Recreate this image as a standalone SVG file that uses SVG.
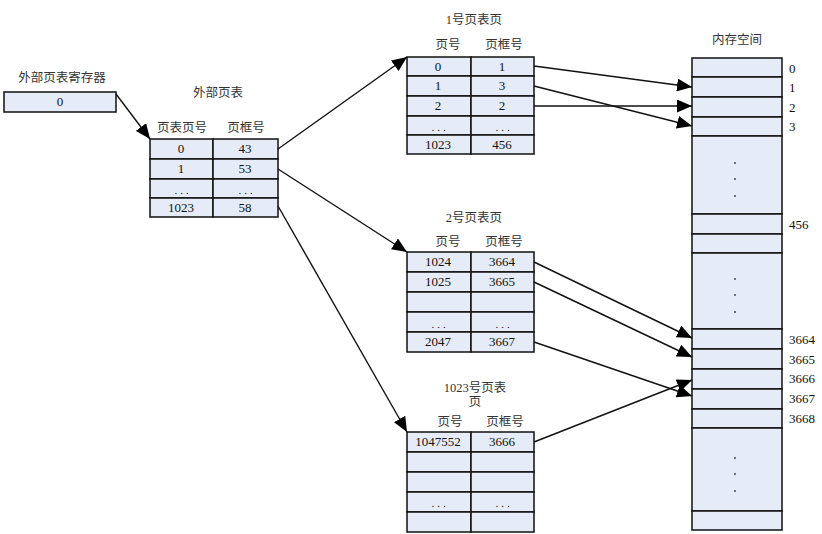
<svg xmlns="http://www.w3.org/2000/svg" width="822" height="534" viewBox="0 0 822 534">
<defs>
<style>
.cell{fill:#E5EBF7;stroke:#111;stroke-width:1.5}
.t{font-family:"Liberation Serif","Noto Sans CJK SC",serif;font-size:13px;fill:#111;text-anchor:middle}
.c{font-family:"Liberation Serif","Noto Sans CJK SC",serif;font-size:12.5px;fill:#333;text-anchor:middle}
.m{font-family:"Liberation Serif",serif;font-size:13px;fill:#111;text-anchor:start}
.d{font-family:"Liberation Serif",serif;font-size:11px;fill:#111;text-anchor:middle;letter-spacing:3px}
.dot{fill:#333}
.conn path{fill:none;stroke:#111;stroke-width:1.4;marker-end:url(#ah)}
</style>
<marker id="ah" markerUnits="userSpaceOnUse" markerWidth="15" markerHeight="13" refX="15" refY="6.5" orient="auto" viewBox="0 0 15 13">
<path d="M0,0 L15,6.5 L0,13 z" fill="#000"/>
</marker>
</defs>
<rect width="822" height="534" fill="#fff"/>

<g id="register">
<text class="c" x="62" y="82">外部页表寄存器</text>
<rect class="cell" x="4" y="92" width="112" height="20"/>
<text class="t" x="60" y="106">0</text>
</g>

<g id="outer-table">
<text class="c" x="218" y="97">外部页表</text>
<text class="c" x="182" y="132">页表页号</text>
<text class="c" x="246" y="132">页框号</text>
<rect class="cell" x="150" y="139" width="63" height="20"/><rect class="cell" x="213" y="139" width="65" height="20"/>
<rect class="cell" x="150" y="159" width="63" height="20"/><rect class="cell" x="213" y="159" width="65" height="20"/>
<rect class="cell" x="150" y="179" width="63" height="19"/><rect class="cell" x="213" y="179" width="65" height="19"/>
<rect class="cell" x="150" y="198" width="63" height="19"/><rect class="cell" x="213" y="198" width="65" height="19"/>
<text class="t" x="181" y="153">0</text><text class="t" x="245" y="153">43</text>
<text class="t" x="181" y="173">1</text><text class="t" x="245" y="173">53</text>
<text class="d" x="183" y="194">...</text><text class="d" x="247" y="194">...</text>
<text class="t" x="181" y="212">1023</text><text class="t" x="245" y="212">58</text>
</g>

<g id="page-table-1">
<text class="c" x="474" y="24">1号页表页</text>
<text class="c" x="448" y="49">页号</text>
<text class="c" x="504" y="49">页框号</text>
<rect class="cell" x="407" y="57" width="64" height="19"/><rect class="cell" x="471" y="57" width="63" height="19"/>
<rect class="cell" x="407" y="76" width="64" height="20"/><rect class="cell" x="471" y="76" width="63" height="20"/>
<rect class="cell" x="407" y="96" width="64" height="20"/><rect class="cell" x="471" y="96" width="63" height="20"/>
<rect class="cell" x="407" y="116" width="64" height="19"/><rect class="cell" x="471" y="116" width="63" height="19"/>
<rect class="cell" x="407" y="135" width="64" height="19"/><rect class="cell" x="471" y="135" width="63" height="19"/>
<text class="t" x="438" y="71">0</text><text class="t" x="502" y="71">1</text>
<text class="t" x="438" y="90">1</text><text class="t" x="502" y="90">3</text>
<text class="t" x="438" y="110">2</text><text class="t" x="502" y="110">2</text>
<text class="d" x="440" y="131">...</text><text class="d" x="504" y="131">...</text>
<text class="t" x="438" y="149">1023</text><text class="t" x="502" y="149">456</text>
</g>

<g id="page-table-2">
<text class="c" x="474" y="222">2号页表页</text>
<text class="c" x="448" y="246">页号</text>
<text class="c" x="504" y="246">页框号</text>
<rect class="cell" x="407" y="252" width="64" height="20"/><rect class="cell" x="471" y="252" width="63" height="20"/>
<rect class="cell" x="407" y="272" width="64" height="20"/><rect class="cell" x="471" y="272" width="63" height="20"/>
<rect class="cell" x="407" y="292" width="64" height="20"/><rect class="cell" x="471" y="292" width="63" height="20"/>
<rect class="cell" x="407" y="312" width="64" height="20"/><rect class="cell" x="471" y="312" width="63" height="20"/>
<rect class="cell" x="407" y="332" width="64" height="20"/><rect class="cell" x="471" y="332" width="63" height="20"/>
<text class="t" x="438" y="266">1024</text><text class="t" x="502" y="266">3664</text>
<text class="t" x="438" y="286">1025</text><text class="t" x="502" y="286">3665</text>
<text class="d" x="440" y="328">...</text><text class="d" x="504" y="328">...</text>
<text class="t" x="438" y="346">2047</text><text class="t" x="502" y="346">3667</text>
</g>

<g id="page-table-1023">
<text class="c" x="475" y="392">1023号页表</text>
<text class="c" x="475" y="406">页</text>
<text class="c" x="450" y="426">页号</text>
<text class="c" x="505" y="426">页框号</text>
<rect class="cell" x="407" y="432" width="64" height="20"/><rect class="cell" x="471" y="432" width="63" height="20"/>
<rect class="cell" x="407" y="452" width="64" height="20"/><rect class="cell" x="471" y="452" width="63" height="20"/>
<rect class="cell" x="407" y="472" width="64" height="20"/><rect class="cell" x="471" y="472" width="63" height="20"/>
<rect class="cell" x="407" y="492" width="64" height="20"/><rect class="cell" x="471" y="492" width="63" height="20"/>
<rect class="cell" x="407" y="512" width="64" height="20"/><rect class="cell" x="471" y="512" width="63" height="20"/>
<text class="t" x="438" y="446">1047552</text><text class="t" x="502" y="446">3666</text>
<text class="d" x="440" y="507">...</text><text class="d" x="504" y="507">...</text>
</g>

<g id="memory">
<text class="c" x="737" y="44">内存空间</text>
<rect class="cell" x="692" y="58" width="90" height="19"/>
<rect class="cell" x="692" y="77" width="90" height="20"/>
<rect class="cell" x="692" y="97" width="90" height="20"/>
<rect class="cell" x="692" y="117" width="90" height="19"/>
<rect class="cell" x="692" y="136" width="90" height="78"/>
<rect class="cell" x="692" y="214" width="90" height="20"/>
<rect class="cell" x="692" y="234" width="90" height="19"/>
<rect class="cell" x="692" y="253" width="90" height="76"/>
<rect class="cell" x="692" y="329" width="90" height="20"/>
<rect class="cell" x="692" y="349" width="90" height="20"/>
<rect class="cell" x="692" y="369" width="90" height="20"/>
<rect class="cell" x="692" y="389" width="90" height="20"/>
<rect class="cell" x="692" y="409" width="90" height="19"/>
<rect class="cell" x="692" y="428" width="90" height="83"/>
<rect class="cell" x="692" y="511" width="90" height="19"/>
<circle class="dot" cx="735" cy="163" r="0.9"/><circle class="dot" cx="735" cy="179" r="0.9"/><circle class="dot" cx="735" cy="196" r="0.9"/>
<circle class="dot" cx="735" cy="279" r="0.9"/><circle class="dot" cx="735" cy="295" r="0.9"/><circle class="dot" cx="735" cy="312" r="0.9"/>
<circle class="dot" cx="735" cy="458" r="0.9"/><circle class="dot" cx="735" cy="474" r="0.9"/><circle class="dot" cx="735" cy="491" r="0.9"/>
<text class="m" x="789" y="73">0</text>
<text class="m" x="789" y="92">1</text>
<text class="m" x="789" y="112">2</text>
<text class="m" x="789" y="131">3</text>
<text class="m" x="789" y="229">456</text>
<text class="m" x="789" y="344">3664</text>
<text class="m" x="789" y="364">3665</text>
<text class="m" x="789" y="383">3666</text>
<text class="m" x="789" y="403">3667</text>
<text class="m" x="789" y="423">3668</text>
</g>

<g id="connectors" class="conn">
<path d="M116,94 L150,139"/>
<path d="M278,149 L407,57"/>
<path d="M278,169 L407,252"/>
<path d="M278,206 L407,432"/>
<path d="M534,66 L692,87"/>
<path d="M534,86 L692,126"/>
<path d="M534,106 L692,106"/>
<path d="M534,262 L692,338"/>
<path d="M534,282 L692,357"/>
<path d="M534,342 L692,396"/>
<path d="M534,442 L692,380"/>
</g>
</svg>
